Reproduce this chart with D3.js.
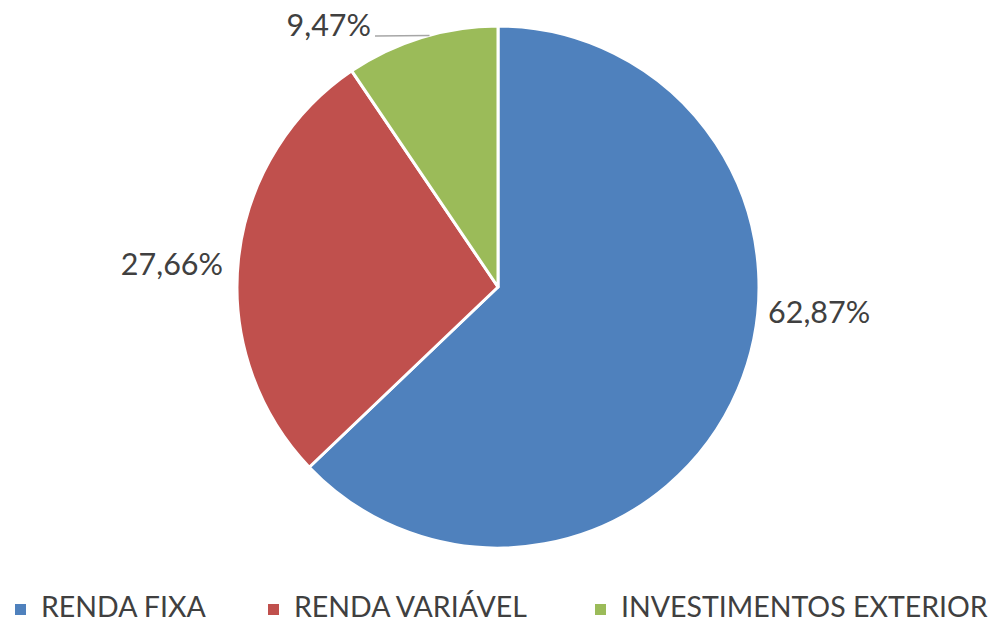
<!DOCTYPE html>
<html>
  <head>
    <meta charset="utf-8">
    <script src="https://cdnjs.cloudflare.com/ajax/libs/d3/7.8.5/d3.min.js"></script>
    <style>
      body { margin: 0; background: #fff; }
      svg text { font-family: Lato, "Noto Sans", sans-serif; fill: #404040; }
    </style>
  </head>
  <body>
    <svg id="chart" width="1001" height="623"></svg>
    <script>
      const categories = ["RENDA FIXA", "RENDA VARIÁVEL", "INVESTIMENTOS EXTERIOR"]
      const values = [62.87, 27.66, 9.47]
      const labels = ["62,87%", "27,66%", "9,47%"]
      const colors = ["#4F81BD", "#C0504D", "#9BBB59"]

      const width = 1001, height = 623
      const cx = 498, cy = 287, radius = 261

      const svg = d3.select("#chart")
      const g = svg.append("g").attr("transform", `translate(${cx},${cy})`)

      const pie = d3.pie().sort(null).value(d => d)
      const arcs = pie(values)
      const arc = d3.arc().innerRadius(0).outerRadius(radius)

      g.selectAll("path")
        .data(arcs)
        .join("path")
        .attr("d", arc)
        .attr("fill", (d, i) => colors[i])
        .attr("stroke", "#fff")
        .attr("stroke-width", 3)
        .attr("stroke-linejoin", "round")

      // label placement (offsets from pie centre), Excel-like best fit
      const labelPos = [
        {x: 270, y: 36, anchor: "start"},
        {x: -275, y: -12, anchor: "end"},
        {x: -127, y: -251, anchor: "end"}
      ]

      g.selectAll("text.lbl")
        .data(arcs)
        .join("text")
        .attr("class", "lbl")
        .attr("x", (d, i) => labelPos[i].x)
        .attr("y", (d, i) => labelPos[i].y)
        .attr("text-anchor", (d, i) => labelPos[i].anchor)
        .style("font-size", "30.5px")
        .text((d, i) => labels[i])

      // leader line for small slice
      const small = arcs[2]
      const mid = (small.startAngle + small.endAngle) / 2
      const edge = [Math.sin(mid) * radius, -Math.cos(mid) * radius]
      g.append("path")
        .attr("d", `M${labelPos[2].x + 4},${labelPos[2].y}L${edge[0] + 8},${edge[1] - 2}`)
        .attr("fill", "none")
        .attr("stroke", "#A6A6A6")
        .attr("stroke-width", 1.5)

      // legend
      const legendX = [15, 268, 595]
      const legend = svg.append("g")
      const items = legend.selectAll("g")
        .data(categories)
        .join("g")
        .attr("transform", (d, i) => `translate(${legendX[i]},0)`)
      items.append("rect")
        .attr("x", 0).attr("y", 604)
        .attr("width", 11).attr("height", 11)
        .attr("fill", (d, i) => colors[i])
      items.append("text")
        .attr("x", 26).attr("y", 617)
        .style("font-size", "28.5px")
        .text(d => d)
    </script>
  </body>
</html>
